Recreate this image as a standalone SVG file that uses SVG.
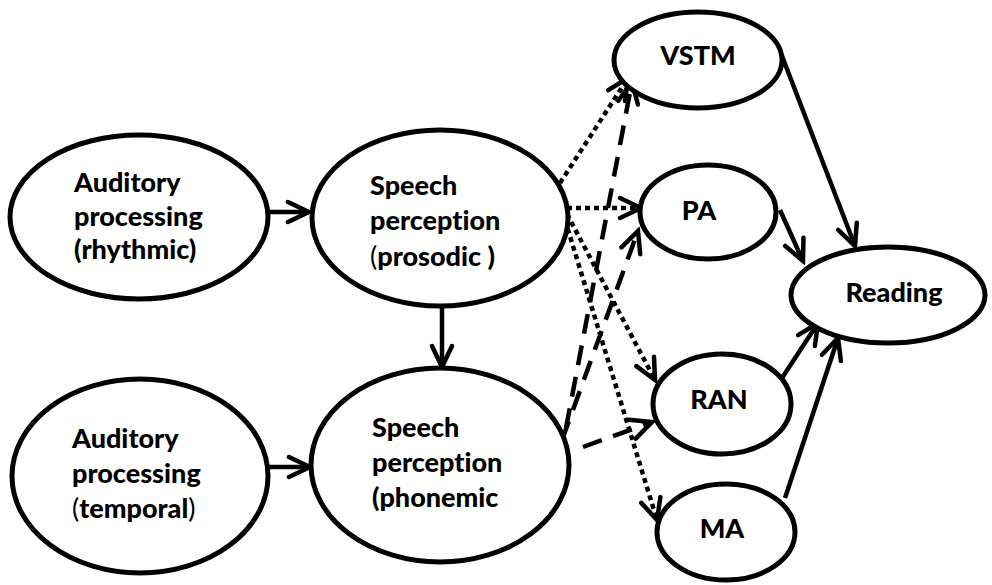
<svg xmlns="http://www.w3.org/2000/svg" width="992" height="585" viewBox="0 0 992 585">
<style>
.node{fill:#fff;stroke:#000;stroke-width:5}
.t{font-family:Lato,"Liberation Sans",sans-serif;font-weight:900;font-size:27px;fill:#000;font-variant-ligatures:none;font-feature-settings:"liga" 0}
.n{font-weight:normal}
.c{fill:none;stroke:#000;stroke-width:4.5;marker-end:url(#ah)}
.dot{stroke-dasharray:5 4}
.dash{stroke-dasharray:20 12}
</style>
<defs>
<marker id="ah" markerUnits="userSpaceOnUse" viewBox="-26 -15 30 30" refX="0" refY="0" markerWidth="30" markerHeight="30" orient="auto">
<path d="M-21,-10 L0,0 L-21,10" fill="none" stroke="#000" stroke-width="4.5" stroke-linecap="round" stroke-dasharray="none"/>
</marker>
</defs>
<rect width="992" height="585" fill="#fff"/>
<g id="connectors">
<line class="c" x1="268" y1="212" x2="309" y2="212"/>
<line class="c" x1="268" y1="467" x2="310" y2="467"/>
<line class="c" x1="442" y1="307" x2="442" y2="367"/>
<line class="c" x1="782" y1="56" x2="855" y2="246"/>
<line class="c" x1="780" y1="210" x2="803" y2="261"/>
<line class="c" x1="782" y1="378" x2="818" y2="323"/>
<line class="c" x1="785" y1="498" x2="838" y2="338"/>
<line class="c dot" x1="560" y1="183" x2="628" y2="78"/>
<line class="c dot" x1="567" y1="208" x2="641" y2="208"/>
<line class="c dot" x1="567" y1="214" x2="655" y2="380"/>
<line class="c dot" x1="565" y1="220" x2="657" y2="520"/>
<line class="c dash" x1="566" y1="428" x2="632" y2="82"/>
<line class="c dash" x1="562" y1="440" x2="638" y2="231"/>
<line class="c dash" x1="583" y1="447" x2="652" y2="422"/>
</g>
<g id="n-aud-rhythmic">
<ellipse class="node" cx="139" cy="217" rx="129" ry="82"/>
<text class="t"><tspan x="74" y="192">Auditory</tspan><tspan x="74" y="226">processing</tspan><tspan x="74" y="259">(rhythmic)</tspan></text>
</g>
<g id="n-speech-prosodic">
<ellipse class="node" cx="440" cy="218" rx="128" ry="88"/>
<text class="t"><tspan x="370" y="195">Speech</tspan><tspan x="370" y="230">perception</tspan><tspan x="370" y="266"><tspan class="n">(</tspan>prosodic )</tspan></text>
</g>
<g id="n-aud-temporal">
<ellipse class="node" cx="140" cy="476" rx="128" ry="97"/>
<text class="t"><tspan x="72" y="448">Auditory</tspan><tspan x="72" y="483">processing</tspan><tspan x="72" y="518"><tspan class="n">(</tspan>temporal<tspan class="n">)</tspan></tspan></text>
</g>
<g id="n-speech-phonemic">
<ellipse class="node" cx="440" cy="465" rx="129" ry="97"/>
<text class="t"><tspan x="372" y="437">Speech</tspan><tspan x="372" y="472">perception</tspan><tspan x="372" y="507">(phonemic</tspan></text>
</g>
<g id="n-vstm">
<ellipse class="node" cx="698" cy="60" rx="84" ry="48"/>
<text class="t" x="698" y="65" text-anchor="middle">VSTM</text>
</g>
<g id="n-pa">
<ellipse class="node" cx="708" cy="212" rx="68" ry="47"/>
<text class="t" x="699" y="220" text-anchor="middle">PA</text>
</g>
<g id="n-ran">
<ellipse class="node" cx="722" cy="404" rx="69" ry="50"/>
<text class="t" x="719" y="409" text-anchor="middle">RAN</text>
</g>
<g id="n-ma">
<ellipse class="node" cx="726" cy="532" rx="69" ry="48"/>
<text class="t" x="722" y="538" text-anchor="middle">MA</text>
</g>
<g id="n-reading">
<ellipse class="node" cx="888" cy="295" rx="97" ry="48"/>
<text class="t" x="894" y="302" text-anchor="middle">Reading</text>
</g>
</svg>
